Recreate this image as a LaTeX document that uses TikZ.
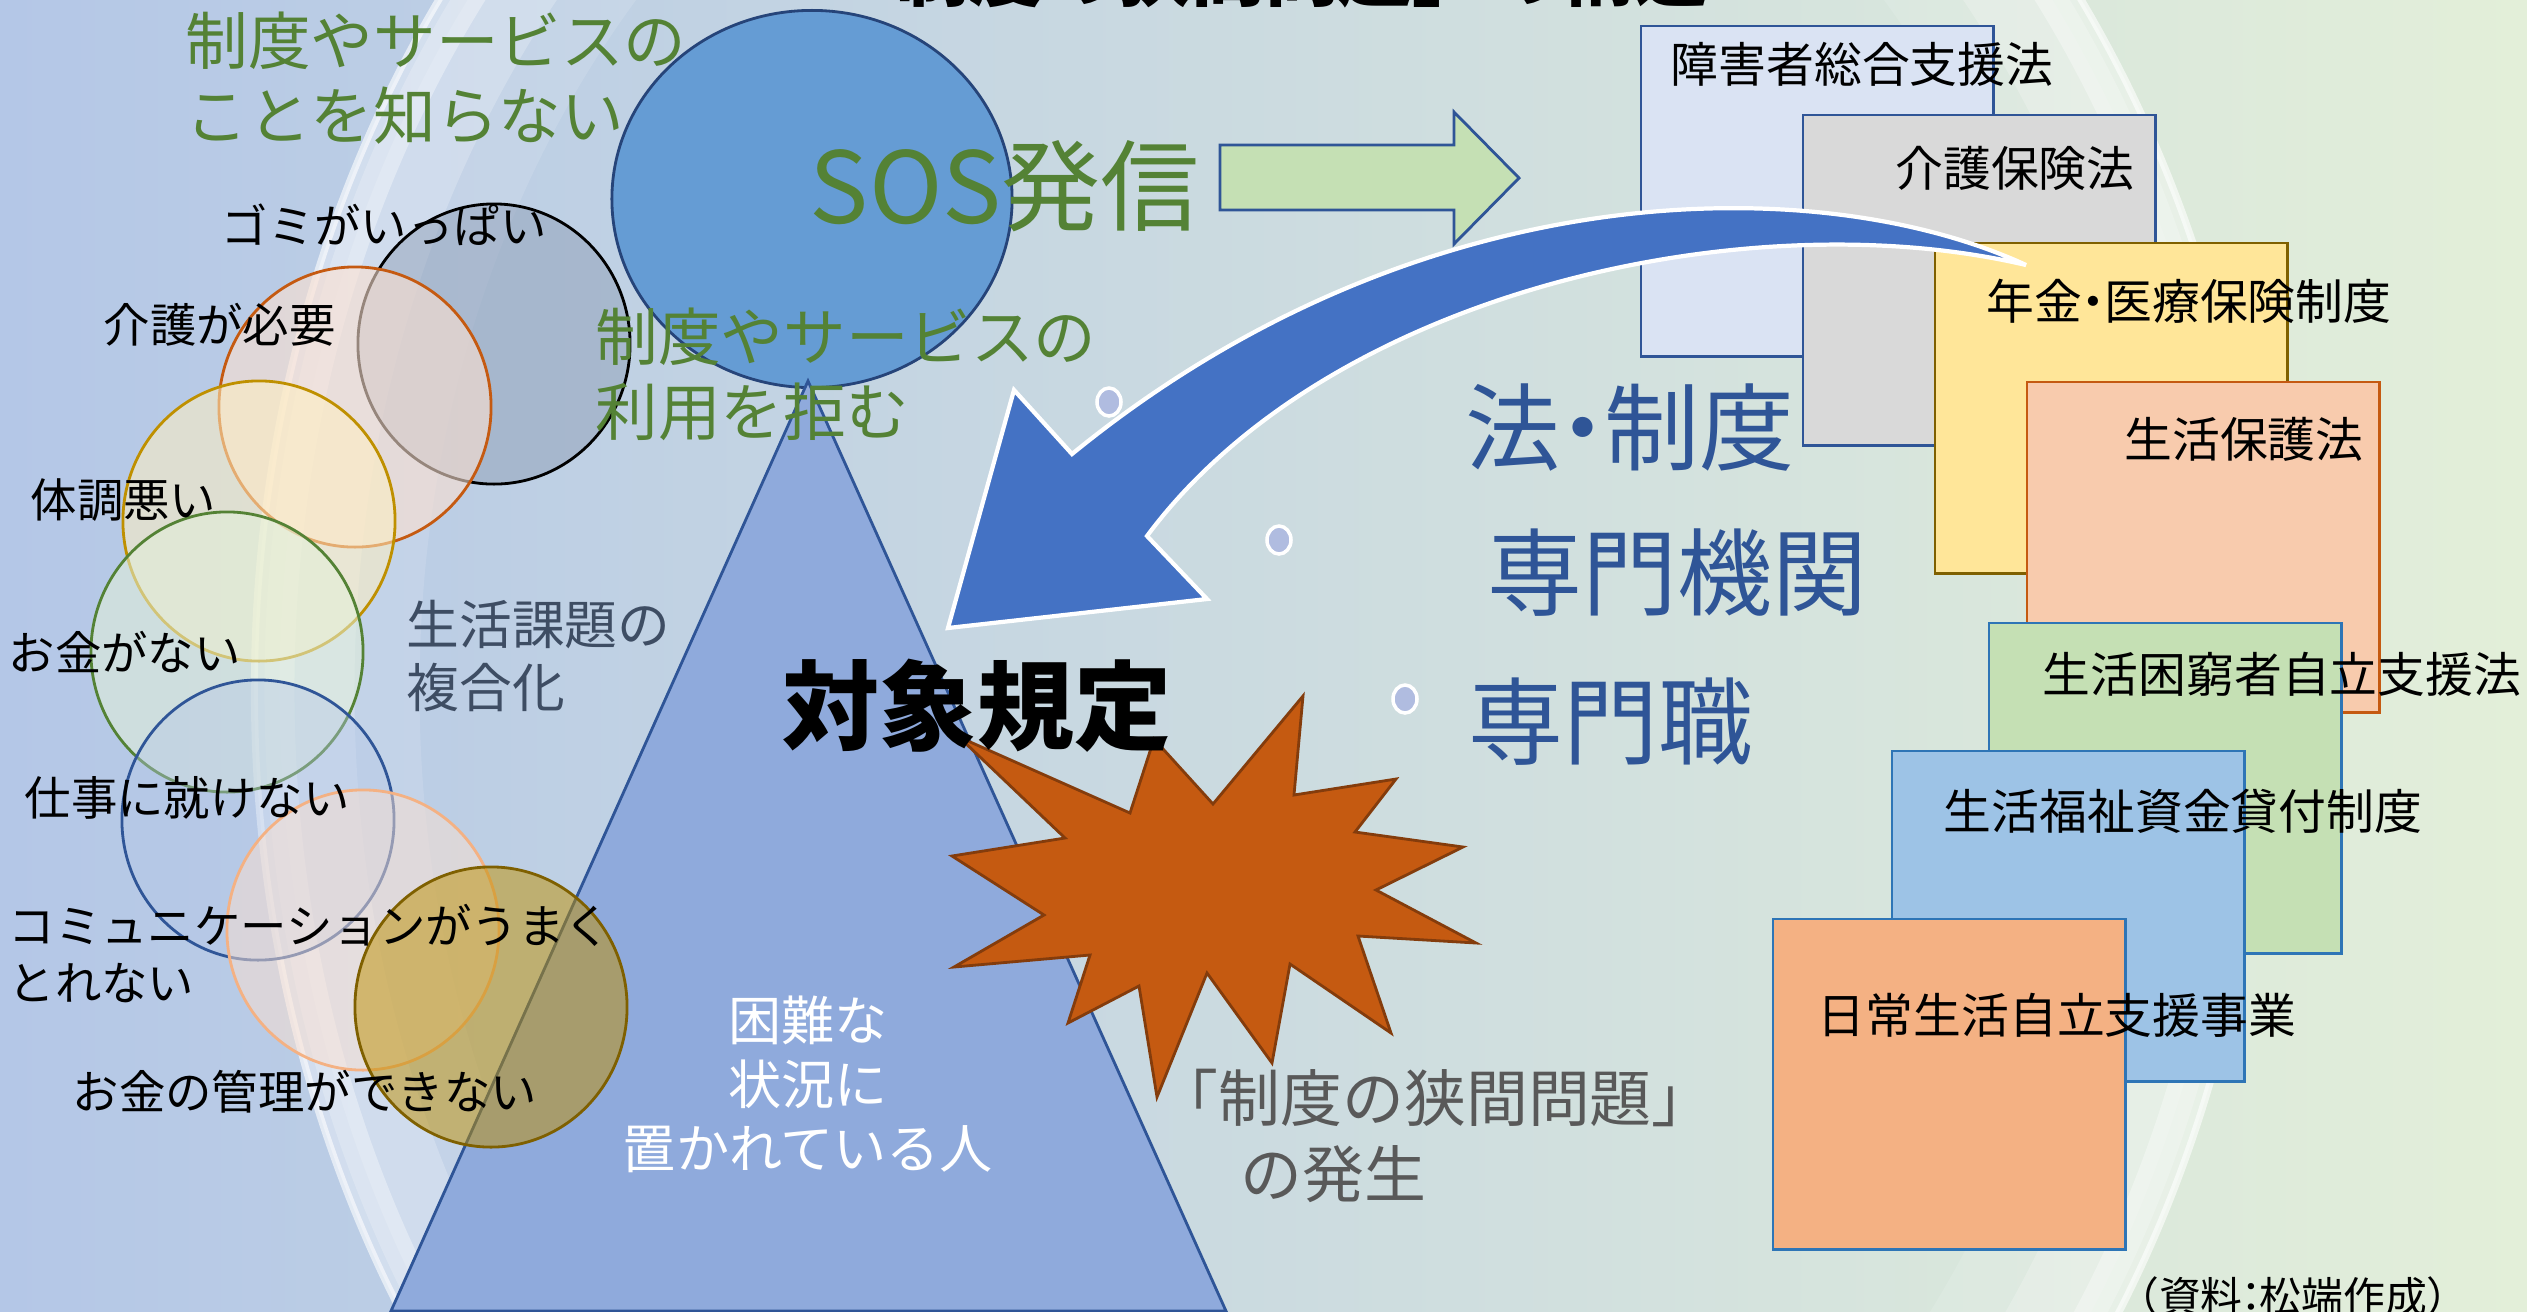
\documentclass[tikz,border=0pt]{standalone}
\usepackage{fontspec}
\setmainfont{Noto Sans CJK JP}
\usetikzlibrary{shapes.geometric}

\definecolor{bgblue}{HTML}{B4C7E7}
\definecolor{bgmid}{HTML}{CCDCDF}
\definecolor{bggreen}{HTML}{E3EFD9}
\definecolor{txgreen}{HTML}{548235}
\definecolor{txblue}{HTML}{2F5597}
\definecolor{txslate}{HTML}{3E4D63}
\definecolor{txgrey}{HTML}{595959}
\definecolor{sosblue}{HTML}{659CD4}
\definecolor{triblue}{HTML}{8FAADC}
\definecolor{arrowblue}{HTML}{4472C4}
\definecolor{arrowgreen}{HTML}{C5E0B4}
\definecolor{burstfill}{HTML}{C55A11}
\definecolor{burstline}{HTML}{843C0C}
\definecolor{pearlfill}{HTML}{B0BCE0}
\definecolor{boxblue}{HTML}{2E75B6}
\definecolor{gomifill}{HTML}{8A9AB2}
\definecolor{peachfill}{HTML}{FBE0D0}
\definecolor{creamfill}{HTML}{FFF0C0}
\definecolor{mintfill}{HTML}{E2F0D9}
\definecolor{goldline}{HTML}{BF9000}
\definecolor{darkgold}{HTML}{7F6000}
\definecolor{lightorange}{HTML}{F4B183}
\definecolor{lawblue}{HTML}{DAE3F3}
\definecolor{lawgrey}{HTML}{D9D9D9}
\definecolor{lawyellow}{HTML}{FFE699}
\definecolor{lawpeach}{HTML}{F8CBAD}
\definecolor{lawsky}{HTML}{9DC3E6}

\newcommand{\fsz}[2]{\fontsize{#1}{#2}\selectfont}

\begin{document}
\begin{tikzpicture}[x=0.01cm, y=-0.01cm,
		bubble/.style={ellipse, draw, line width=0.8pt, minimum width=2.72cm, minimum height=2.80cm, inner sep=0},
		probtext/.style={inner sep=0, anchor=west, align=left, font=\fsz{13.2}{16.2}},
		greentext/.style={inner sep=0, anchor=west, align=left, text=txgreen, font=\fsz{17.8}{21.3}},
		bluetext/.style={inner sep=0, anchor=west, text=txblue, font=\fsz{27}{30}},
		lawbox/.style={rectangle, draw=txblue, line width=0.8pt, minimum width=3.52cm, minimum height=3.30cm, inner sep=0},
		lawtext/.style={inner sep=0, font=\fsz{13.6}{16}},
		pearl/.style={ellipse, fill=pearlfill, draw=white, line width=1pt, minimum width=0.24cm, minimum height=0.28cm, inner sep=0}]
		\useasboundingbox (0,0) rectangle (2527,1311);
		\clip (0,0) rectangle (2527,1311);
		% background
		\shade[left color=bgblue, middle color=bgmid, right color=bggreen] (0,0) rectangle (2527,1311);
		\draw[white, line width=1.4cm, opacity=0.12] (1260,690) ellipse [x radius=9.1cm, y radius=11.0cm];
		\draw[white, line width=0.9cm, opacity=0.22] (1260,690) ellipse [x radius=9.5cm, y radius=11.4cm];
		\draw[white, line width=0.4cm, opacity=0.35] (1260,690) ellipse [x radius=9.85cm, y radius=11.75cm];
		\draw[white, line width=2pt, opacity=0.6] (1260,690) ellipse [x radius=10.05cm, y radius=11.95cm];

		\node[ellipse, fill=sosblue, draw=txblue!80!black, line width=0.8pt, minimum width=4.0cm, minimum height=3.77cm] (e0) at (812,199) {};
		\draw[fill=triblue, draw=txblue, line width=0.8pt] (808,381) -- (1226,1311) -- (391,1311) -- cycle;

		% bubbles
		\node[bubble, draw=black, fill=gomifill, fill opacity=0.45] (c1) at (494,344) {};
		\node[bubble, draw=burstfill, fill=peachfill, fill opacity=0.6] (c2) at (355,407) {};
		\node[bubble, draw=goldline, fill=creamfill, fill opacity=0.55] (c3) at (259,521) {};
		\node[bubble, draw=txgreen, fill=mintfill, fill opacity=0.55] (c4) at (227,652) {};
		\node[bubble, draw=txblue, fill=bgblue, fill opacity=0.4] (c5) at (258,820) {};
		\node[bubble, draw=lightorange, fill=peachfill, fill opacity=0.5] (c6) at (363,930) {};
		\node[bubble, draw=darkgold, fill=goldline, fill opacity=0.5] (c7) at (491,1007) {};

		\draw[fill=arrowgreen, draw=txblue, line width=0.8pt] (1220,145) -- (1454,145) -- (1454,112) -- (1519,178) -- (1454,244) -- (1454,210) -- (1220,210) -- cycle;

		% law boxes
		\node[lawbox, fill=lawblue] (r1) at (1817,191) {};
		\node[lawbox, fill=lawgrey] (r2) at (1979,280) {};
		\node[lawbox, fill=lawyellow, draw=darkgold] (r3) at (2111,408) {};
		\node[lawbox, fill=lawpeach, draw=burstfill] (r4) at (2203,547) {};
		\node[lawbox, fill=arrowgreen, draw=boxblue] (r5) at (2165,788) {};
		\node[lawbox, fill=lawsky, draw=boxblue] (r6) at (2068,916) {};
		\node[lawbox, fill=lightorange, draw=boxblue] (r7) at (1949,1084) {};

		\draw[fill=arrowblue, draw=white, line width=1.2pt] (2026,265) .. controls (1820,170) and (1420,170) .. (1072,454) -- (1014,390) -- (948,628) -- (1207,599) -- (1147,536) .. controls (1330,290) and (1750,200) .. (2026,265) -- cycle;

		\draw[fill=burstfill, draw=burstline, line width=0.8pt] (959,737) -- (1130,813) -- (1154,739) -- (1213,804) -- (1303,696) -- (1294,795) -- (1396,779) -- (1355,832) -- (1463,847) -- (1376,890) -- (1476,943) -- (1358,936) -- (1391,1033) -- (1290,964) -- (1272,1063) -- (1207,973) -- (1157,1097) -- (1139,986) -- (1068,1023) -- (1090,955) -- (954,967) -- (1044,915) -- (952,856) -- (1065,838) -- cycle;

		% texts
		\node[anchor=south, inner sep=0, font=\fsz{21}{24}\bfseries] (title) at (1265,9) {「制度の狭間問題」の構造};
		\node[greentext] (g1) at (185,78) {制度やサービスの\\ことを知らない};
		\node[greentext] (g2) at (595,374) {制度やサービスの\\利用を拒む};
		\node[inner sep=0, text=txgreen, font=\fsz{28.2}{30}] (sos) at (1005,186) {SOS発信};
		\node[probtext] (t1) at (221,225) {ゴミがいっぱい};
		\node[probtext] (t2) at (103,325) {介護が必要};
		\node[probtext] (t3) at (30,500) {体調悪い};
		\node[probtext] (t4) at (8,652) {お金がない};
		\node[probtext] (t5) at (24,798) {仕事に就けない};
		\node[probtext] (t6) at (8,954) {コミュニケーションがうまく\\とれない};
		\node[probtext] (t7) at (72,1092) {お金の管理ができない};
		\node[inner sep=0, anchor=west, align=left, text=txslate, font=\fsz{15}{17.9}] (t8) at (406,656) {生活課題の\\複合化};
		\node[inner sep=0, align=center, text=white, font=\fsz{15.1}{18.2}] (t9) at (808,1084) {困難な\\状況に\\置かれている人};
		\node[inner sep=0, font=\fsz{27.6}{30}\bfseries] (t10) at (977,706) {対象規定};
		\node[inner sep=0, anchor=west, align=left, text=txgrey, font=\fsz{17.6}{21.6}] (t11) at (1156,1136) {「制度の狭間問題」\\\hspace{1.35em}の発生};
		\node[bluetext] (t12) at (1465,427) {法\kern-.27em・\kern-.27em制度};
		\node[bluetext] (t13) at (1487,573) {専門機関};
		\node[bluetext] (t14) at (1468,722) {専門職};
		\node[lawtext] (l1) at (1862,64) {障害者総合支援法};
		\node[lawtext] (l2) at (2015,168) {介護保険法};
		\node[lawtext] (l3) at (2189,301) {年金\kern-.27em・\kern-.27em医療保険制度};
		\node[lawtext] (l4) at (2244,439) {生活保護法};
		\node[lawtext] (l5) at (2282,674) {生活困窮者自立支援法};
		\node[lawtext] (l6) at (2183,811) {生活福祉資金貸付制度};
		\node[lawtext] (l7) at (2057,1015) {日常生活自立支援事業};
		\node[anchor=north, inner sep=0, font=\fsz{11.9}{14}] (src) at (2293,1276) {（資料\kern-.3em：\kern-.3em松端作成）};

		\node[pearl] (d1) at (1109,402) {};
		\node[pearl] (d2) at (1279,540) {};
		\node[pearl] (d3) at (1405,699) {};
		\end{tikzpicture}
\end{document}
